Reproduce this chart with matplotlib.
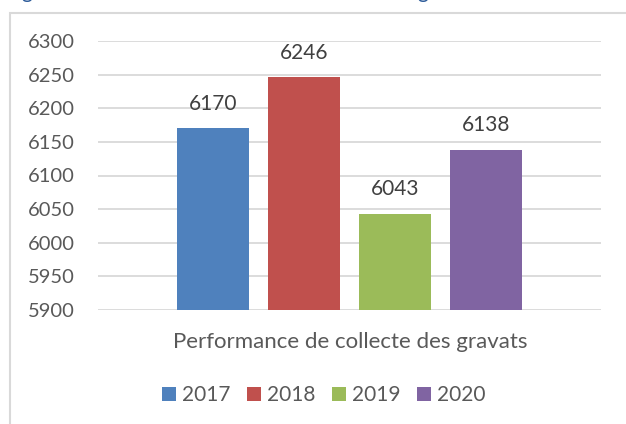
import matplotlib
matplotlib.use("Agg")
import matplotlib.pyplot as plt
from matplotlib.patches import Patch, Rectangle

# Data
category = "Performance de collecte des gravats"
years = ["2017", "2018", "2019", "2020"]
values = [6170, 6246, 6043, 6138]
colors = ["#4F81BD", "#C0504D", "#9BBB59", "#8064A2"]
yticks = [5900, 5950, 6000, 6050, 6100, 6150, 6200, 6250, 6300]

plt.rcParams["font.family"] = ["Lato", "DejaVu Sans"]
W, H = 626, 424
fig = plt.figure(figsize=(W / 100, H / 100), dpi=100)
fig.patch.set_facecolor("white")

# Chart frame (partly outside the canvas)
fig.patches.append(Rectangle((9.5 / W, -0.05), 1.1, 1 - 12.5 / H + 0.05,
                             transform=fig.transFigure, fill=False,
                             edgecolor="#D9D9D9", linewidth=1.5))

# Descenders of the caption line sitting just above the canvas
for xp in (27, 423):
    fig.text(xp / W, 1 + 1.5 / H, "g", color="#2E5C9A", fontsize=15,
             ha="center", va="baseline")

ax = fig.add_axes([98 / W, 1 - 310 / H, (601 - 98) / W, (310 - 41) / H])
n = len(values)
xs = [i - (n - 1) / 2 for i in range(n)]
bars = ax.bar(xs, values, width=0.79, color=colors, zorder=3)
ax.set_xlim(-2.764, 2.764)
ax.set_ylim(5900, 6300)
ax.set_yticks(yticks)
ax.set_yticklabels([str(t) for t in yticks], fontsize=14.5, color="#595959")
ax.tick_params(axis="y", length=0, pad=16.5)
ax.set_xticks([])
for s in ax.spines.values():
    s.set_visible(False)
ax.grid(axis="y", color="#D9D9D9", linewidth=1.3, zorder=0)

for x, v in zip(xs, values):
    ax.annotate(str(v), (x, v), xytext=(0, 13.5), textcoords="offset points",
                ha="center", va="baseline", fontsize=15, color="#404040")

fig.text(350 / W, 1 - 348 / H, category, ha="center", va="baseline",
         fontsize=16, color="#595959")

handles = [Patch(facecolor=c, edgecolor="none") for c in colors]
fig.legend(handles, years, loc="center", bbox_to_anchor=(324 / W, 1 - 395 / H),
           ncol=4, frameon=False, fontsize=15, handlelength=0.65,
           handleheight=0.65, handletextpad=0.3, columnspacing=0.8,
           labelcolor="#595959", borderaxespad=0, borderpad=0)

fig.savefig("out.png", dpi=100, facecolor="white")
